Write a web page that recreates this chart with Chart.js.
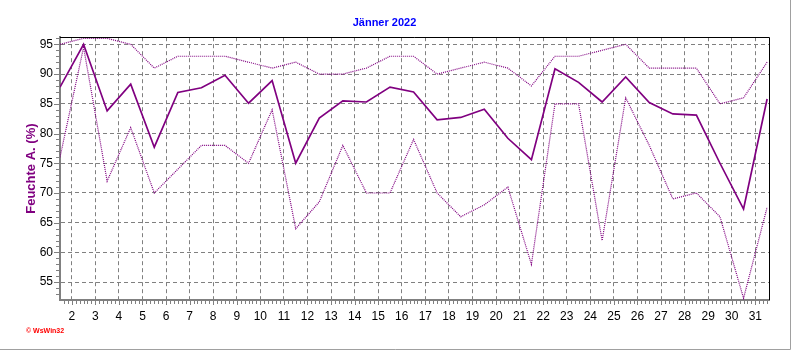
<!DOCTYPE html>
<html>
<head>
<meta charset="utf-8">
<script src="https://cdn.jsdelivr.net/npm/chart.js@4"></script>
<style>
    html, body { margin: 0; padding: 0; background: #ffffff; }
    #wrap { width: 792px; height: 350px; position: relative; }
</style>
</head>
<body>
<div id="wrap"><canvas id="grafico"></canvas></div>
<script>
// Tage im Jänner
var tage = [1, 2, 3, 4, 5, 6, 7, 8, 9, 10, 11, 12, 13, 14, 15, 16, 17, 18, 19, 20, 21, 22, 23, 24, 25, 26, 27, 28, 29, 30, 31];

// Feuchte außen (%): Mittel, Maximum, Minimum
var feuchteMittel = [87.8, 95.0, 83.8, 88.3, 77.7, 86.9, 87.7, 89.8, 85.1, 88.9, 75.0, 82.6, 85.5, 85.3, 87.8, 87.0,
    82.3, 82.7, 84.1, 79.2, 75.6, 90.9, 88.6, 85.3, 89.5, 85.2, 83.3, 83.1, 75.0, 67.3, 85.8];
var feuchteMax = [95, 96, 96, 95, 91, 93, 93, 93, 92, 91, 92, 90, 90, 91, 93, 93,
    90, 91, 92, 91, 88, 93, 93, 94, 95, 91, 91, 91, 85, 86, 92];
var feuchteMin = [76, 94.5, 72, 81, 70, 74, 78, 78, 75, 84, 64, 68.5, 78, 70, 70, 79,
    70, 66, 68, 71, 58, 85, 85, 62, 86, 78, 69, 70, 66, 52.3, 67.6];

// Achsenbeschriftung
var xTicks = [2, 3, 4, 5, 6, 7, 8, 9, 10, 11, 12, 13, 14, 15, 16, 17, 18, 19, 20, 21, 22, 23, 24, 25, 26, 27, 28, 29, 30, 31];
var yTicks = [55, 60, 65, 70, 75, 80, 85, 90, 95];

var lila = '#800080';
var grau = '#808080';

// Werte liegen jeweils in der Tagesmitte
function punkte(werte) {
    return tage.map(function (t, i) {
        return { x: t + 0.5, y: werte[i] };
    });
}

// Rahmen, Hilfsstriche und Copyright
var extras = {
    id: 'extras',
    afterDraw: function (chart) {
        var ctx = chart.ctx, a = chart.chartArea;
        var sx = chart.scales.x, sy = chart.scales.y;
        ctx.save();
        ctx.lineWidth = 1;
        ctx.strokeStyle = '#000000';
        ctx.beginPath();
        ctx.moveTo(a.left, Math.round(a.top) + 0.5);
        ctx.lineTo(Math.round(a.right) + 0.5, Math.round(a.top) + 0.5);
        ctx.lineTo(Math.round(a.right) + 0.5, a.bottom);
        ctx.stroke();

        ctx.strokeStyle = grau;
        ctx.beginPath();
        for (var v = 53; v <= 96; v++) {
            var py = Math.round(sy.getPixelForValue(v)) + 0.5;
            var len = v % 5 === 0 ? 5 : 3;
            ctx.moveTo(a.left - 1 - len, py);
            ctx.lineTo(a.left - 1, py);
        }
        for (var k = 0; k <= 200; k++) {
            var t = 1 + k / 6;
            if (t <= sx.min || t >= sx.max) continue;
            var px = Math.round(sx.getPixelForValue(t)) + 0.5;
            var l2 = (k % 6 === 0) ? 4 : 3;
            ctx.moveTo(px, a.bottom + 1);
            ctx.lineTo(px, a.bottom + 1 + l2);
        }
        ctx.stroke();

        ctx.strokeStyle = '#a0a0a0';
        ctx.beginPath();
        ctx.moveTo(0, 349.5);
        ctx.lineTo(790.5, 349.5);
        ctx.lineTo(790.5, 0);
        ctx.stroke();

        ctx.fillStyle = '#ff0000';
        ctx.font = 'bold 7px "Liberation Sans", Arial, sans-serif';
        ctx.textBaseline = 'middle';
        ctx.fillText('\u00a9 WsWin32', 26, 331);
        ctx.restore();
    }
};

var ctx = document.getElementById('grafico').getContext('2d');

var grafico = new Chart(ctx, {
    type: 'line',
    data: {
        datasets: [{
            label: 'Maximum',
            data: punkte(feuchteMax),
            borderColor: lila,
            borderWidth: 1.2,
            borderDash: [1, 1],
            pointRadius: 0,
            fill: false
        }, {
            label: 'Minimum',
            data: punkte(feuchteMin),
            borderColor: lila,
            borderWidth: 1.2,
            borderDash: [1, 1],
            pointRadius: 0,
            fill: false
        }, {
            label: 'Mittel',
            data: punkte(feuchteMittel),
            borderColor: lila,
            borderWidth: 1.7,
            pointRadius: 0,
            fill: false
        }]
    },
    options: {
        responsive: true,
        maintainAspectRatio: false,
        animation: false,
        layout: { padding: { left: 0, right: 23, top: 0, bottom: 0 } },
        plugins: {
            legend: { display: false },
            tooltip: { enabled: false },
            title: {
                display: true,
                text: 'Jänner 2022',
                color: '#0000ff',
                font: { family: '"Liberation Sans", Arial, sans-serif', size: 11, weight: 'bold' },
                padding: { top: 16, bottom: 8 }
            }
        },
        scales: {
            x: {
                type: 'linear',
                min: 1.5,
                max: 31.58,
                afterBuildTicks: function (scale) {
                    scale.ticks = xTicks.map(function (v) { return { value: v }; });
                },
                afterFit: function (scale) { scale.height = 50; },
                grid: { color: grau, lineWidth: 1, drawTicks: false },
                border: { display: true, color: grau, width: 2, dash: [4, 3] },
                ticks: {
                    color: '#000000',
                    padding: 9,
                    maxRotation: 0,
                    autoSkip: false,
                    font: { family: '"Liberation Sans", Arial, sans-serif', size: 12 }
                }
            },
            y: {
                min: 52,
                max: 96.2,
                afterBuildTicks: function (scale) {
                    scale.ticks = yTicks.map(function (v) { return { value: v }; });
                },
                afterFit: function (scale) { scale.width = 60; },
                grid: { color: grau, lineWidth: 1, drawTicks: false },
                border: { display: true, color: grau, width: 2, dash: [4, 3] },
                ticks: {
                    color: '#000000',
                    padding: 7,
                    font: { family: '"Liberation Sans", Arial, sans-serif', size: 12 }
                },
                title: {
                    display: true,
                    text: 'Feuchte A. (%)',
                    color: lila,
                    padding: { top: 24, bottom: 0 },
                    font: { family: '"Liberation Sans", Arial, sans-serif', size: 13, weight: 'bold' }
                }
            }
        }
    },
    plugins: [extras]
});
</script>
</body>
</html>
